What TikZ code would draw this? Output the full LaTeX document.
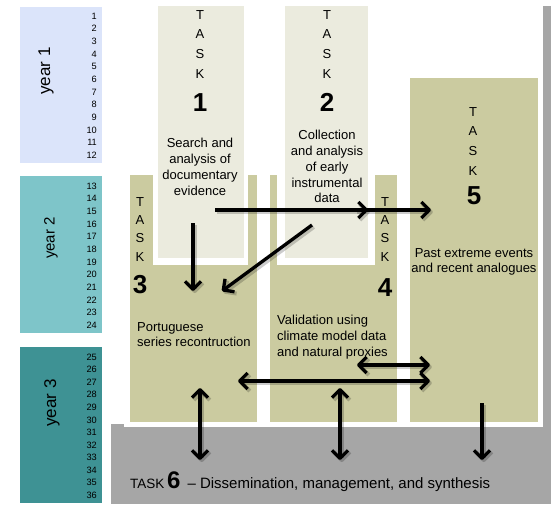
\documentclass[tikz,border=0pt]{standalone}
\usepackage{fontspec}
\setmainfont{Liberation Sans}
\usetikzlibrary{arrows.meta}

\definecolor{yearA}{RGB}{219,228,250}
\definecolor{yearB}{RGB}{126,197,201}
\definecolor{yearC}{RGB}{62,146,148}
\definecolor{paleTask}{RGB}{235,235,222}
\definecolor{oliveTask}{RGB}{203,203,160}
\definecolor{greyTask}{RGB}{166,166,166}

\tikzset{
  box/.style={rectangle, inner sep=0pt, outer sep=0pt, anchor=north west},
  yearbox/.style={box, draw=white, line width=0.6pt},
  yearlabel/.style={rotate=90, inner sep=0pt, font=\fontsize{17}{19}\selectfont},
  monthnum/.style={anchor=east, inner sep=0pt, text height=6.5pt, text depth=0pt,
                   font=\fontsize{9.2}{10}\selectfont},
  tasklet/.style={align=center, inner sep=0pt, anchor=north,
                  font=\fontsize{13}{19.7}\selectfont},
  taskletB/.style={tasklet, font=\fontsize{13}{18.4}\selectfont},
  tasknum/.style={inner sep=0pt, text height=18pt, text depth=0pt,
                  font=\fontsize{26}{28}\selectfont\bfseries},
  desc/.style={inner sep=0pt, anchor=north, font=\fontsize{13}{15.8}\selectfont},
  flow/.style={line width=3.3pt, line cap=butt, line join=round,
               preaction={draw=black, opacity=0.2, line width=4pt,
                          transform canvas={shift={(1.8pt,-2pt)}}}},
  tip/.tip={Straight Barb[length=8pt, width=16pt, line join=round]}
}

\begin{document}
\begin{tikzpicture}[x=1pt, y=-1pt]
\useasboundingbox (0,0) rectangle (551,504);

% ---- time line: three years of twelve months
\node[yearbox, fill=yearA, minimum width=83, minimum height=157] (y1) at (19,6) {};
\node[yearbox, fill=yearB, minimum width=83, minimum height=158] (y2) at (19,175) {};
\node[yearbox, fill=yearC, minimum width=83, minimum height=157] (y3) at (19,346) {};
\node[yearlabel] (y1l) at (46,71) {year 1};
\node[yearlabel, font=\fontsize{15}{17}\selectfont] (y2l) at (51,238) {year 2};
\node[yearlabel] (y3l) at (52,403) {year 3};
\foreach \i in {1,...,12}
  \node[monthnum] (m\i) at (97,{16+(\i-1)*12.64}) {\i};
\foreach \i in {13,...,24}
  \node[monthnum] (m\i) at (97,{186+(\i-13)*12.64}) {\i};
\foreach \i in {25,...,36}
  \node[monthnum] (m\i) at (97,{357+(\i-25)*12.55}) {\i};

% ---- task 6 background (bottom band and right edge)
\node[box, fill=greyTask, minimum width=440, minimum height=80] (t6) at (111,424) {};
\node[box, fill=greyTask, minimum width=8, minimum height=498] (t6edge) at (543,6) {};
\fill[white] (124,415) rectangle (543,427);

% ---- tasks 3, 4, 5
\node[box, fill=oliveTask, minimum width=127, minimum height=247] (t3) at (130,175) {};
\node[box, fill=oliveTask, minimum width=127, minimum height=247] (t4) at (270,175) {};
\node[box, fill=oliveTask, minimum width=128, minimum height=344] (t5) at (410,78) {};

% ---- tasks 1 and 2 (in front, framed in white)
\node[box, fill=white, minimum width=95, minimum height=259] (t1f) at (153,6) {};
\node[box, fill=paleTask, minimum width=86, minimum height=252] (t1) at (158,6) {};
\node[box, fill=white, minimum width=98, minimum height=259] (t2f) at (277,6) {};
\node[box, fill=paleTask, minimum width=83, minimum height=252] (t2) at (285,6) {};

% ---- task titles
\node[tasklet] (t1t) at (200,10) {T\\A\\S\\K};
\node[tasknum] (t1n) at (200,102) {1};
\node[tasklet] (t2t) at (327,10) {T\\A\\S\\K};
\node[tasknum] (t2n) at (327,102) {2};
\node[taskletB] (t3t) at (140,197) {T\\A\\S\\K};
\node[tasknum] (t3n) at (140,284) {3};
\node[taskletB] (t4t) at (385,197) {T\\A\\S\\K};
\node[tasknum] (t4n) at (385,287) {4};
\node[tasklet] (t5t) at (473,107) {T\\A\\S\\K};
\node[tasknum] (t5n) at (474,195) {5};

% ---- task descriptions
\node[desc, align=center] (t1d) at (200,138) {Search and\\analysis of\\documentary\\evidence};
\node[desc, align=center] (t2d) at (327,130) {Collection\\and analysis\\of early\\instrumental\\data};
\node[desc, align=left, anchor=north west] (t3d) at (137,322) {Portuguese\\series recontruction};
\node[desc, align=left, anchor=north west] (t4d) at (277,315) {Validation using\\climate model data\\and natural proxies};
\node[desc, align=center] (t5d) at (474,248) {Past extreme events\\and recent analogues};
\node[inner sep=0pt, anchor=base west] (t6d) at (130,488)
  {{\fontsize{13.5}{15}\selectfont TASK} {\fontsize{24}{26}\selectfont\bfseries 6}
   {\fontsize{15}{17}\selectfont\ – Dissemination, management, and synthesis}};

% ---- arrow end points
\coordinate (a1s) at (215,210);  \coordinate (a1e) at (368,210);
\coordinate (a2s) at (355,210);  \coordinate (a2e) at (431,210);
\coordinate (a3s) at (193,223);  \coordinate (a3e) at (193,291);
\coordinate (a4s) at (312,225);  \coordinate (a4e) at (222,291);
\coordinate (a5s) at (238,381);  \coordinate (a5e) at (430,381);
\coordinate (a6s) at (357,365);  \coordinate (a6e) at (430,365);
\coordinate (a7s) at (200,388);  \coordinate (a7e) at (200,460);
\coordinate (a8s) at (340,388);  \coordinate (a8e) at (340,460);
\coordinate (a9s) at (482,403);  \coordinate (a9e) at (482,460);

% ---- flows between tasks
\draw[flow, -tip] (a1s) -- (a1e);
\draw[flow, -tip] (a2s) -- (a2e);
\draw[flow, -tip] (a3s) -- (a3e);
\draw[flow, -tip] (a4s) -- (a4e);
\draw[flow, tip-tip] (a5s) -- (a5e);
\draw[flow, tip-tip] (a6s) -- (a6e);
\draw[flow, tip-tip] (a7s) -- (a7e);
\draw[flow, tip-tip] (a8s) -- (a8e);
\draw[flow, -tip] (a9s) -- (a9e);
\end{tikzpicture}
\end{document}
